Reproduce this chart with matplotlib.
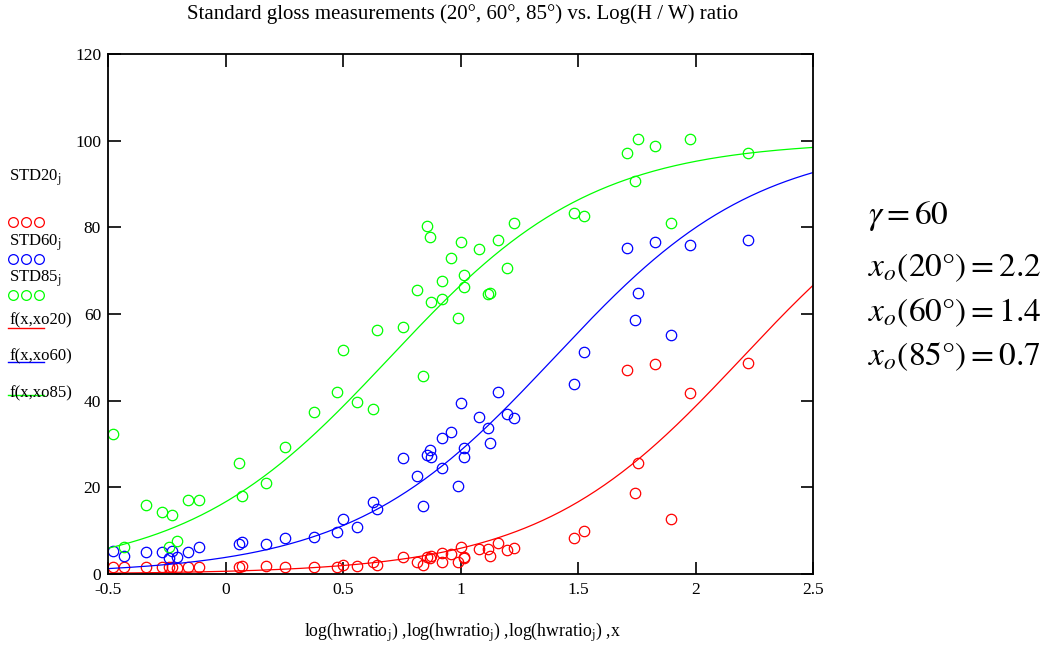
import matplotlib
matplotlib.use('Agg')
import matplotlib.pyplot as plt
from matplotlib.lines import Line2D
import numpy as np


#----------------  Data  ---------------------------------------

# log(hwratio_j), shared by all three gloss angles
log_hw = [-0.480, -0.432, -0.339, -0.272, -0.241, -0.229, -0.208, -0.159, -0.112,
          0.056, 0.069, 0.172, 0.253, 0.376, 0.474, 0.500, 0.558, 0.629, 0.646,
          0.756, 0.813, 0.839, 0.856, 0.869, 0.875, 0.920, 0.920, 0.961, 0.990,
          1.004, 1.016, 1.016, 1.078, 1.115, 1.125, 1.159, 1.196, 1.226,
          1.484, 1.526, 1.707, 1.742, 1.755, 1.829, 1.895, 1.976, 2.223]

std20 = [1.5, 1.5, 1.7, 1.7, 1.7, 1.5, 1.3, 1.7, 1.7,
         1.7, 1.9, 1.9, 1.7, 1.7, 1.7, 2.1, 1.9, 2.7, 2.1,
         4.0, 2.8, 2.1, 4.0, 3.6, 4.2, 4.8, 2.8, 4.6, 2.8,
         6.3, 3.6, 4.0, 5.7, 5.7, 4.2, 7.2, 5.5, 6.1,
         8.2, 10.0, 47.0, 18.6, 25.7, 48.4, 12.6, 41.7, 48.7]

std60 = [5.2, 4.2, 5.0, 5.0, 3.6, 5.2, 4.0, 5.0, 6.3,
         6.9, 7.3, 6.9, 8.3, 8.6, 9.6, 12.6, 10.9, 16.7, 14.9,
         26.7, 22.6, 15.7, 27.5, 28.6, 27.1, 31.3, 24.4, 32.7, 20.3,
         39.4, 29.0, 26.9, 36.3, 33.8, 30.3, 41.9, 36.9, 35.9,
         43.8, 51.3, 75.2, 58.6, 64.8, 76.7, 55.1, 76.0, 77.1]

std85 = [32.3, 6.3, 16.0, 14.3, 6.3, 13.6, 7.7, 17.0, 17.0,
         25.7, 18.0, 21.1, 29.4, 37.3, 42.1, 51.7, 39.8, 38.0, 56.4,
         57.1, 65.5, 45.7, 80.4, 77.7, 62.7, 67.5, 63.5, 73.0, 59.0,
         76.7, 69.0, 66.3, 75.0, 64.6, 64.9, 77.1, 70.7, 81.1,
         83.4, 82.5, 97.1, 90.8, 100.4, 98.8, 81.1, 100.4, 97.1]

# fitted midpoints x_o for 20, 60, 85 degrees
xo20, xo60, xo85 = 2.2, 1.4, 0.7
gamma = 60

colors = ['#ff0000', '#0000ff', '#00ff00']


def f(x, xo):
    # logistic fit shown on the chart
    return 100.0 / (1.0 + 10.0 ** (xo - x))


#----------------  Plot  --------------------

plt.rcParams['font.family'] = 'serif'
plt.rcParams['font.serif'] = ['Liberation Serif', 'DejaVu Serif']
plt.rcParams['mathtext.fontset'] = 'stix'

fig = plt.figure(figsize=(10.48, 6.48), dpi=100)
ax = fig.add_axes([0.1031, 0.1142, 0.6727, 0.8025])

x = np.linspace(-0.5, 2.5, 400)
for ys, xo, c in zip([std20, std60, std85], [xo20, xo60, xo85], colors):
    ax.plot(log_hw, ys, 'o', mfc='none', mec=c, ms=7.5, mew=0.9)
    ax.plot(x, f(x, xo), '-', color=c, lw=0.9)

ax.set_xlim(-0.5, 2.5)
ax.set_ylim(0, 120)
ax.set_xticks([-0.5, 0, 0.5, 1, 1.5, 2, 2.5])
ax.set_xticklabels(['-0.5', '0', '0.5', '1', '1.5', '2', '2.5'])
ax.set_yticks([0, 20, 40, 60, 80, 100, 120])
ax.tick_params(direction='in', length=9, width=1.2, top=True, right=True,
               labelsize=12.5, pad=6)
ax.tick_params(axis='y', pad=5)
for s in ax.spines.values():
    s.set_linewidth(1.3)

fig.text(0.441, 0.978, 'Standard gloss measurements (20°, 60°, 85°) vs. Log(H / W) ratio',
         ha='center', va='center', fontsize=15)
xl = r'log(hwratio$_{\rm j}$) ,log(hwratio$_{\rm j}$) ,log(hwratio$_{\rm j}$) ,x'
fig.text(0.441, 0.024, xl, ha='center', va='center', fontsize=12.8)

#----------------  Mathcad style legend on the left  --------------------

names = [r'STD20$_{\rm j}$', r'STD60$_{\rm j}$', r'STD85$_{\rm j}$']
text_y = [178, 243, 279]
circ_y = [222, 259, 295]
for nm, ty, cy, c in zip(names, text_y, circ_y, colors):
    fig.text(9 / 1048, 1 - ty / 648, nm, ha='left', va='center', fontsize=12)
    fig.add_artist(Line2D([13 / 1048, 26 / 1048, 39 / 1048], [1 - cy / 648] * 3,
                          ls='none', marker='o', mfc='none', mec=c, ms=7, mew=0.9))

fnames = ['f(x,xo20)', 'f(x,xo60)', 'f(x,xo85)']
ftext_y = [320, 356, 393]
fline_y = [328, 362, 395]
for nm, ty, ly, c in zip(fnames, ftext_y, fline_y, colors):
    fig.text(9 / 1048, 1 - ty / 648, nm, ha='left', va='center', fontsize=12)
    fig.add_artist(Line2D([8 / 1048, 44 / 1048], [1 - ly / 648] * 2, color=c, lw=1))

#----------------  Fit parameters on the right  --------------------

eqs = [r'$\gamma = %d$' % gamma,
       r'$x_o(20°) = %.1f$' % xo20,
       r'$x_o(60°) = %.1f$' % xo60,
       r'$x_o(85°) = %.1f$' % xo85]
eq_y = [216, 268, 313, 357]
for e, ey in zip(eqs, eq_y):
    fig.text(868 / 1048, 1 - ey / 648, e, ha='left', va='center', fontsize=24)

fig.savefig('out.png', dpi=100)
